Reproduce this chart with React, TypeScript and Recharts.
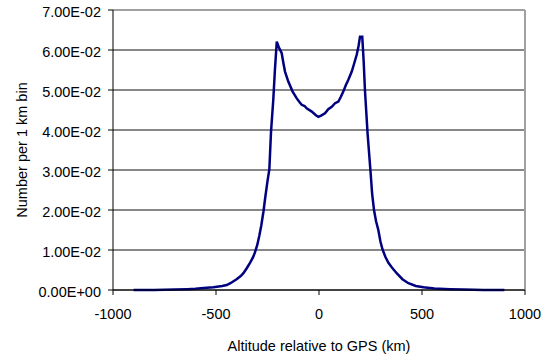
import React from 'react';
import { LineChart, Line, XAxis, YAxis, CartesianGrid, ReferenceLine, Label } from 'recharts';

// Altitude relative to GPS (km)
const altitudes = [
  -900, -800, -700, -640, -600, -560, -513, -470, -448, -430, -400, -380, -367, -350, -335, -320, -311,
  -300, -290, -280, -270, -260, -250, -241, -233, -222, -214, -205, -195, -181, -172, -165, -149, -128,
  -108, -95, -84, -70, -60, -35, -15, -3, 10, 29, 45, 62, 78, 94, 105, 118, 130, 142, 150, 159, 170, 183,
  192, 199, 210, 217, 223, 236, 251, 258, 267, 277, 288, 298, 308, 322, 337, 353, 377, 405, 434, 470,
  507, 560, 636, 700, 800, 900,
];
// Number per 1 km bin
const counts = [
  0.0, 0.00003, 0.0001, 0.0002, 0.0003, 0.0005, 0.0007, 0.0010, 0.00125, 0.0017, 0.0027, 0.0035, 0.0042,
  0.0055, 0.0068, 0.0082, 0.0094, 0.0112, 0.0135, 0.0162, 0.0195, 0.0235, 0.0272, 0.0302, 0.0395, 0.0475,
  0.0550, 0.0621, 0.0607, 0.0592, 0.0565, 0.0546, 0.0521, 0.0496, 0.0479, 0.0470, 0.0463, 0.0460, 0.0454,
  0.0446, 0.0437, 0.0433, 0.0436, 0.0442, 0.0452, 0.0458, 0.0467, 0.0471, 0.0482, 0.0496, 0.0512, 0.0525,
  0.0535, 0.0546, 0.0565, 0.0588, 0.0610, 0.0633, 0.0633, 0.0570, 0.0500, 0.0390, 0.0290, 0.0240, 0.0200,
  0.0172, 0.0150, 0.0122, 0.0102, 0.0083, 0.0068, 0.0057, 0.0042, 0.0027, 0.0017, 0.0010, 0.0007, 0.0004,
  0.0002, 0.0001, 0.00003, 0.0,
];

const xTicks = [-1000, -500, 0, 500, 1000];
const yTicks = [0, 0.01, 0.02, 0.03, 0.04, 0.05, 0.06, 0.07];
const yTickLabels = ['0.00E+00', '1.00E-02', '2.00E-02', '3.00E-02', '4.00E-02', '5.00E-02', '6.00E-02', '7.00E-02'];

const data = altitudes.map((a, i) => ({ alt: a, n: counts[i] }));

const FONT = '"Liberation Sans", Arial, sans-serif';
const FS = 14.5;

const YLabel = (props: any) => {
  const vb = props.viewBox || { x: 0, y: 0, width: 0, height: 0 };
  const cx = vb.x + 9;
  const cy = vb.y + vb.height / 2;
  return (
    <text
      x={cx}
      y={cy}
      transform={`rotate(-90, ${cx}, ${cy})`}
      textAnchor="middle"
      dominantBaseline="central"
      fontFamily={FONT}
      fontSize={FS}
      fill="#000"
    >
      Number per 1 km bin
    </text>
  );
};

export default function App() {
  return (
    <div style={{ position: 'absolute', left: 0, top: 0, width: 547, height: 358, background: '#fff' }}>
      <LineChart width={547} height={358} data={data} margin={{ top: 10, right: 22, left: 13, bottom: 5 }}>
        <CartesianGrid vertical={false} stroke="#111" strokeWidth={1} />
        <ReferenceLine y={0.07} stroke="#a0a0a0" strokeWidth={2} />
        <ReferenceLine x={1000} stroke="#a0a0a0" strokeWidth={2} />
        <XAxis
          dataKey="alt"
          type="number"
          domain={[-1000, 1000]}
          ticks={xTicks}
          tickSize={5}
          tickMargin={14}
          height={63}
          stroke="#000"
          tick={{ fill: '#000', fontSize: FS, fontFamily: FONT }}
          interval={0}
        >
          <Label
            value="Altitude relative to GPS (km)"
            position="insideBottom"
            offset={2}
            style={{ fill: '#000', fontSize: FS, fontFamily: FONT }}
          />
        </XAxis>
        <YAxis
          type="number"
          domain={[0, 0.07]}
          ticks={yTicks}
          tickFormatter={(v: number) => yTickLabels[yTicks.findIndex((t) => Math.abs(t - v) < 1e-9)] ?? String(v)}
          tickSize={5}
          tickMargin={7}
          width={100}
          stroke="#000"
          tick={{ fill: '#000', fontSize: FS, fontFamily: FONT, dy: 2 }}
          interval={0}
          label={<YLabel />}
        />
        <Line
          type="linear"
          dataKey="n"
          stroke="#000080"
          strokeWidth={2.5}
          dot={false}
          isAnimationActive={false}
        />
      </LineChart>
    </div>
  );
}
